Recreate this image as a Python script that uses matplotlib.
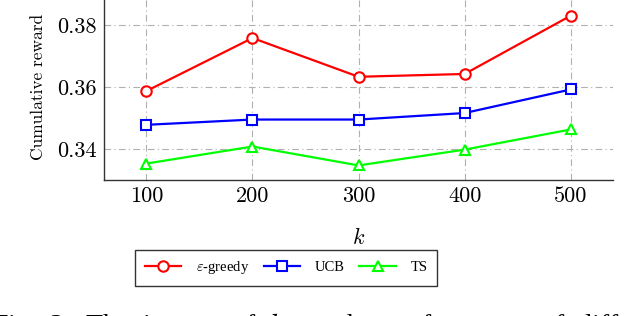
import matplotlib
matplotlib.use("Agg")
import matplotlib.pyplot as plt

plt.rcParams.update({
    'font.family': 'serif',
    'font.serif': ['cmr10', 'DejaVu Serif'],
    'mathtext.fontset': 'cm',
    'axes.unicode_minus': False,
})

k_values = [100, 200, 300, 400, 500]
eps_greedy = [0.3587, 0.3758, 0.3633, 0.3642, 0.3830]
ucb = [0.3478, 0.3495, 0.3495, 0.3516, 0.3592]
ts = [0.3353, 0.3408, 0.3347, 0.3398, 0.3463]
yticks = [0.34, 0.36, 0.38]
ytick_labels = ["0.34", "0.36", "0.38"]

fig = plt.figure(figsize=(6.4, 3.16), dpi=100)
ax = fig.add_axes([0.1625, 0.4304, 0.7955, 0.5886])

ax.plot(k_values, eps_greedy, color='red', lw=1.6, marker='o', ms=7.5,
        mfc='white', mew=1.5, label=r'$\varepsilon$-greedy')
ax.plot(k_values, ucb, color='blue', lw=1.6, marker='s', ms=7.5,
        mfc='white', mew=1.5, label='UCB')
ax.plot(k_values, ts, color='lime', lw=1.6, marker='^', ms=7,
        mfc='white', mew=1.5, label='TS')

ax.set_xlim(60, 540)
ax.set_ylim(0.33, 0.39)
ax.set_xticks(k_values)
ax.set_xticklabels([str(k) for k in k_values])
ax.set_yticks(yticks)
ax.set_yticklabels(ytick_labels)
ax.tick_params(labelsize=16, length=0, pad=5)
ax.grid(True, color='#b0b0b0', linestyle='-.', linewidth=0.8, dashes=(6, 3, 1, 3))
ax.set_axisbelow(True)
for s in ['top', 'right']:
    ax.spines[s].set_visible(False)
for s in ['left', 'bottom']:
    ax.spines[s].set_linewidth(1.0)
    ax.spines[s].set_color('#333333')

ax.set_ylabel("Cumulative reward", fontsize=12.5, labelpad=8)
ax.set_xlabel("$k$", fontsize=16, labelpad=15)

leg = fig.legend(loc='center', bbox_to_anchor=(0.447, 0.153), ncol=3,
                 frameon=True, fancybox=False, edgecolor='black',
                 prop={'family': 'Liberation Serif', 'size': 10.5},
                 handlelength=2.5, columnspacing=1.0, handletextpad=1.0,
                 borderpad=0.65)
leg.get_frame().set_linewidth(1.0)

fig.text(-0.012, -0.078,
         "Fig.  3:  The  impact  of  $k$  on  the  performance  of  different",
         fontsize=20, family='Liberation Serif', ha='left', va='bottom')

fig.savefig("out.png", dpi=100)
